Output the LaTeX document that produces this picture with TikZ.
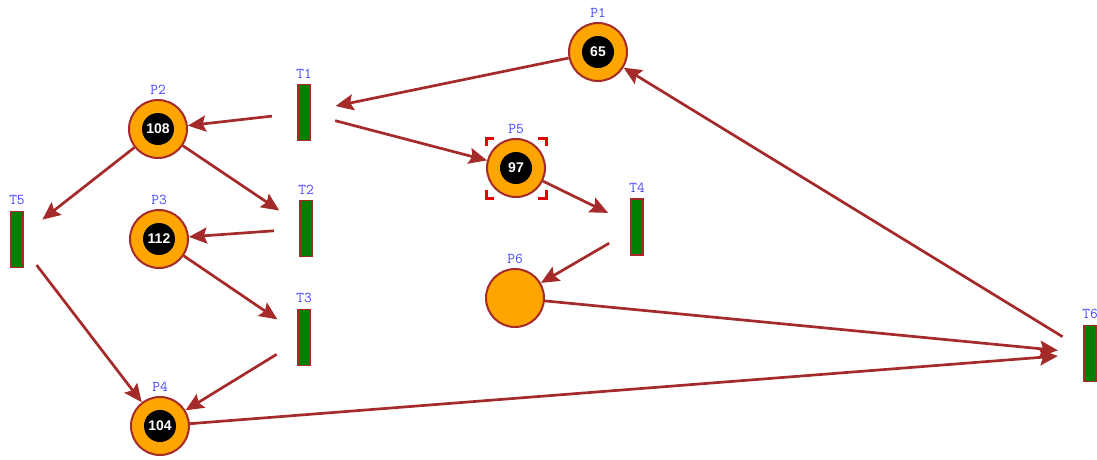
\documentclass[tikz,border=0pt]{standalone}
\usepackage{fontspec}
\setmainfont{Liberation Sans}
\usetikzlibrary{arrows.meta}

\definecolor{brick}{RGB}{165,42,42}
\definecolor{porange}{RGB}{255,165,0}
\definecolor{tgreen}{RGB}{0,128,0}
\definecolor{lblue}{RGB}{70,70,255}
\definecolor{selred}{RGB}{230,0,0}

\begin{document}
\begin{tikzpicture}[
  x=1pt, y=-1pt,
  pname/.style={font=\ttfamily\fontsize{15}{15}\selectfont, text=lblue, inner sep=0pt},
  place/.style={circle, draw=brick, line width=2pt, fill=porange, minimum size=58pt, inner sep=0pt,
    label={[pname, label distance=4pt]above:#1}},
  marked/.style={place=#1, text=white, font=\bfseries\fontsize{14}{14}\selectfont,
    path picture={\fill[black] (path picture bounding box.center) circle (16pt);}},
  trans/.style={circle, minimum size=64pt, inner sep=0pt,
    label={[pname, label distance=2pt]above:#1},
    path picture={\filldraw[draw=brick, fill=tgreen, line width=1.5pt]
      ([shift={(-6pt,-28pt)}]path picture bounding box.center) rectangle
      ([shift={(6pt,28pt)}]path picture bounding box.center);}},
  arc/.style={draw=brick, line width=2.7pt, -{Stealth[length=18pt, width=16pt, inset=3pt]}},
  sel/.style={draw=selred, line width=3pt}
]
\useasboundingbox (0,0) rectangle (1097,459);

% places
\node[marked=P1] (P1) at (598,52) {65};
\node[marked=P2] (P2) at (158,129) {108};
\node[marked=P3] (P3) at (159,239) {112};
\node[marked=P4] (P4) at (160,426) {104};
\node[marked=P5] (P5) at (516,168) {97};
\node[place=P6] (P6) at (515,298) {};

% transitions
\node[trans=T1] (T1) at (304,112.5) {};
\node[trans=T2] (T2) at (306,228.5) {};
\node[trans=T3] (T3) at (304,337.5) {};
\node[trans=T4] (T4) at (637,227) {};
\node[trans=T5] (T5) at (17,239.5) {};
\node[trans=T6] (T6) at (1090,353.5) {};

% arcs
\draw[arc] (P1) -- (T1);
\draw[arc] (T1) -- (P2);
\draw[arc] (T1) -- (P5);
\draw[arc] (P2) -- (T2);
\draw[arc] (P2) -- (T5);
\draw[arc] (T2) -- (P3);
\draw[arc] (P3) -- (T3);
\draw[arc] (T3) -- (P4);
\draw[arc] (T5) -- (P4);
\draw[arc] (P5) -- (T4);
\draw[arc] (T4) -- (P6);
\draw[arc] (P6) -- (T6);
\draw[arc] (P4) -- (T6);
\draw[arc] (T6) -- (P1);

% selection marks
\foreach \sx/\sy in {1/1,1/-1,-1/1,-1/-1}
  \draw[sel] ([shift={(\sx*22pt,\sy*30pt)}]P5.center) -- ++(\sx*8pt,0pt) -- ++(0pt,-\sy*8pt);
\end{tikzpicture}
\end{document}
